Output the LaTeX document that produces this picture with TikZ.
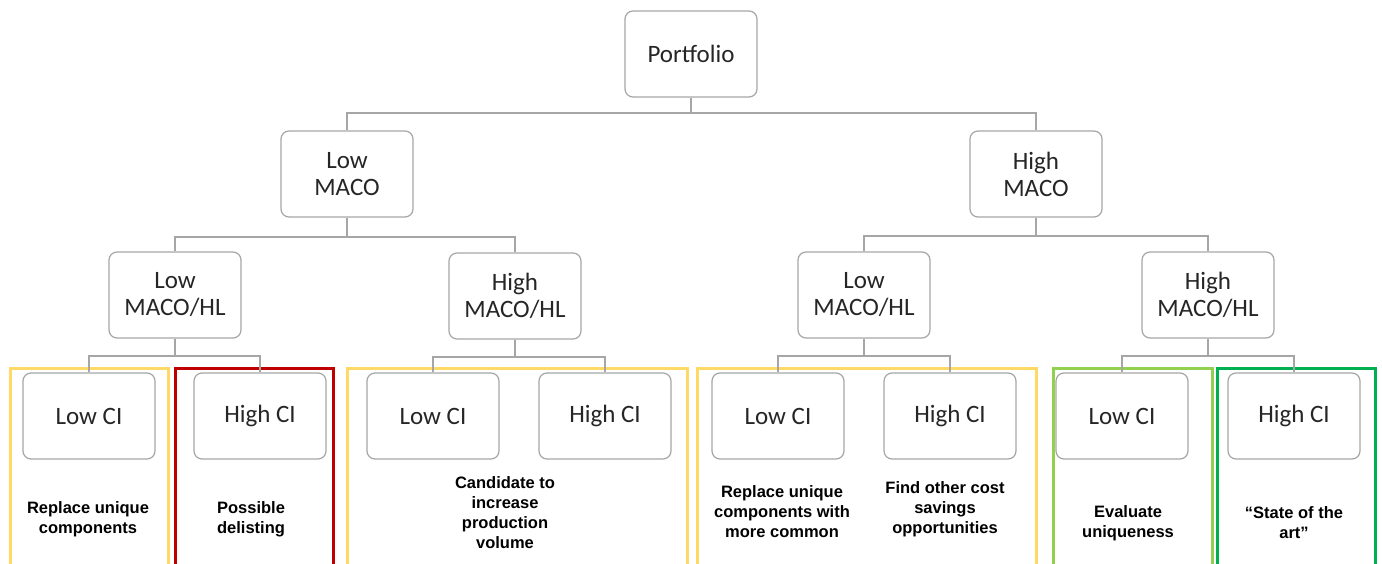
\documentclass[tikz,border=0pt]{standalone}
\usepackage{fontspec}
\setmainfont{Carlito}
\newfontfamily\descfont{Liberation Sans}[BoldFont={* Bold}]
\definecolor{boxgray}{HTML}{A6A6A6}
\definecolor{frameyellow}{HTML}{FFD966}
\definecolor{framered}{HTML}{C00000}
\definecolor{framelgreen}{HTML}{92D050}
\definecolor{framedgreen}{HTML}{00B050}
\definecolor{txt}{HTML}{262626}
\tikzset{
  tbox/.style={draw=boxgray, line width=1.2pt, rounded corners=8pt, fill=white,
    minimum width=132pt, minimum height=86pt, align=center, inner sep=0pt,
    font=\fontsize{25}{27}\selectfont, text=txt},
  conn/.style={draw=boxgray, line width=1.3pt},
  frame/.style={line width=3pt},
  desc/.style={align=center, inner sep=0pt, font=\descfont\bfseries\fontsize{16.5}{20}\selectfont, text=black}
}
\begin{document}
\begin{tikzpicture}[x=1pt,y=-1pt]
\useasboundingbox (0,0) rectangle (1382,564);
\clip (0,0) rectangle (1382,564);
\fill[white] (0,0) rectangle (1382,564);

% colored frames
\draw[frame, frameyellow] (10,580) -- (10,368) -- (168,368) -- (168,580);
\draw[frame, framered] (175,580) -- (175,368) -- (333,368) -- (333,580);
\draw[frame, frameyellow] (347,580) -- (347,368) -- (687,368) -- (687,580);
\draw[frame, frameyellow] (697,580) -- (697,368) -- (1036,368) -- (1036,580);
\draw[frame, framelgreen] (1053,580) -- (1053,368) -- (1212,368) -- (1212,580);
\draw[frame, framedgreen] (1217,580) -- (1217,368) -- (1375,368) -- (1375,580);

% nodes
\node[tbox] (port) at (691,54) {Portfolio};
\node[tbox] (lmaco) at (347,174) {Low\\MACO};
\node[tbox] (hmaco) at (1036,174) {High\\MACO};
\node[tbox] (llhl) at (175,295) {Low\\MACO/HL};
\node[tbox] (lhhl) at (515,296) {High\\MACO/HL};
\node[tbox] (hlhl) at (864,295) {Low\\MACO/HL};
\node[tbox] (hhhl) at (1208,295) {High\\MACO/HL};

\node[tbox] (c1) at (89,416) {Low CI};
\node[tbox] (c2) at (260,416) {High CI};
\node[tbox] (c3) at (433,416) {Low CI};
\node[tbox] (c4) at (605,416) {High CI};
\node[tbox] (c5) at (778,416) {Low CI};
\node[tbox] (c6) at (950,416) {High CI};
\node[tbox] (c7) at (1122,416) {Low CI};
\node[tbox] (c8) at (1294,416) {High CI};

% connectors
\draw[conn] (port.south) -- (port.south |- 0,113) -| (lmaco.north);
\draw[conn] (port.south) -- (port.south |- 0,113) -| (hmaco.north);
\draw[conn] (lmaco.south) -- (lmaco.south |- 0,237) -| (llhl.north);
\draw[conn] (lmaco.south) -- (lmaco.south |- 0,237) -| (lhhl.north);
\draw[conn] (hmaco.south) -- (hmaco.south |- 0,236) -| (hlhl.north);
\draw[conn] (hmaco.south) -- (hmaco.south |- 0,236) -| (hhhl.north);
\draw[conn] (llhl.south) -- (llhl.south |- 0,356) -| (c1.north);
\draw[conn] (llhl.south) -- (llhl.south |- 0,356) -| (c2.north);
\draw[conn] (lhhl.south) -- (lhhl.south |- 0,357) -| (c3.north);
\draw[conn] (lhhl.south) -- (lhhl.south |- 0,357) -| (c4.north);
\draw[conn] (hlhl.south) -- (hlhl.south |- 0,356) -| (c5.north);
\draw[conn] (hlhl.south) -- (hlhl.south |- 0,356) -| (c6.north);
\draw[conn] (hhhl.south) -- (hhhl.south |- 0,356) -| (c7.north);
\draw[conn] (hhhl.south) -- (hhhl.south |- 0,356) -| (c8.north);

% descriptions
\node[desc] (d1) at (88,519) {Replace unique\\components};
\node[desc] (d2) at (251,519) {Possible\\delisting};
\node[desc] (d3) at (505,513) {Candidate to\\increase\\production\\volume};
\node[desc] (d4) at (782,512) {Replace unique\\components with\\more common};
\node[desc] (d5) at (945,509) {Find other cost\\savings\\opportunities};
\node[desc] (d6) at (1128,523) {Evaluate\\uniqueness};
\node[desc] (d7) at (1294,523) {“State of the\\art”};
\end{tikzpicture}
\end{document}
